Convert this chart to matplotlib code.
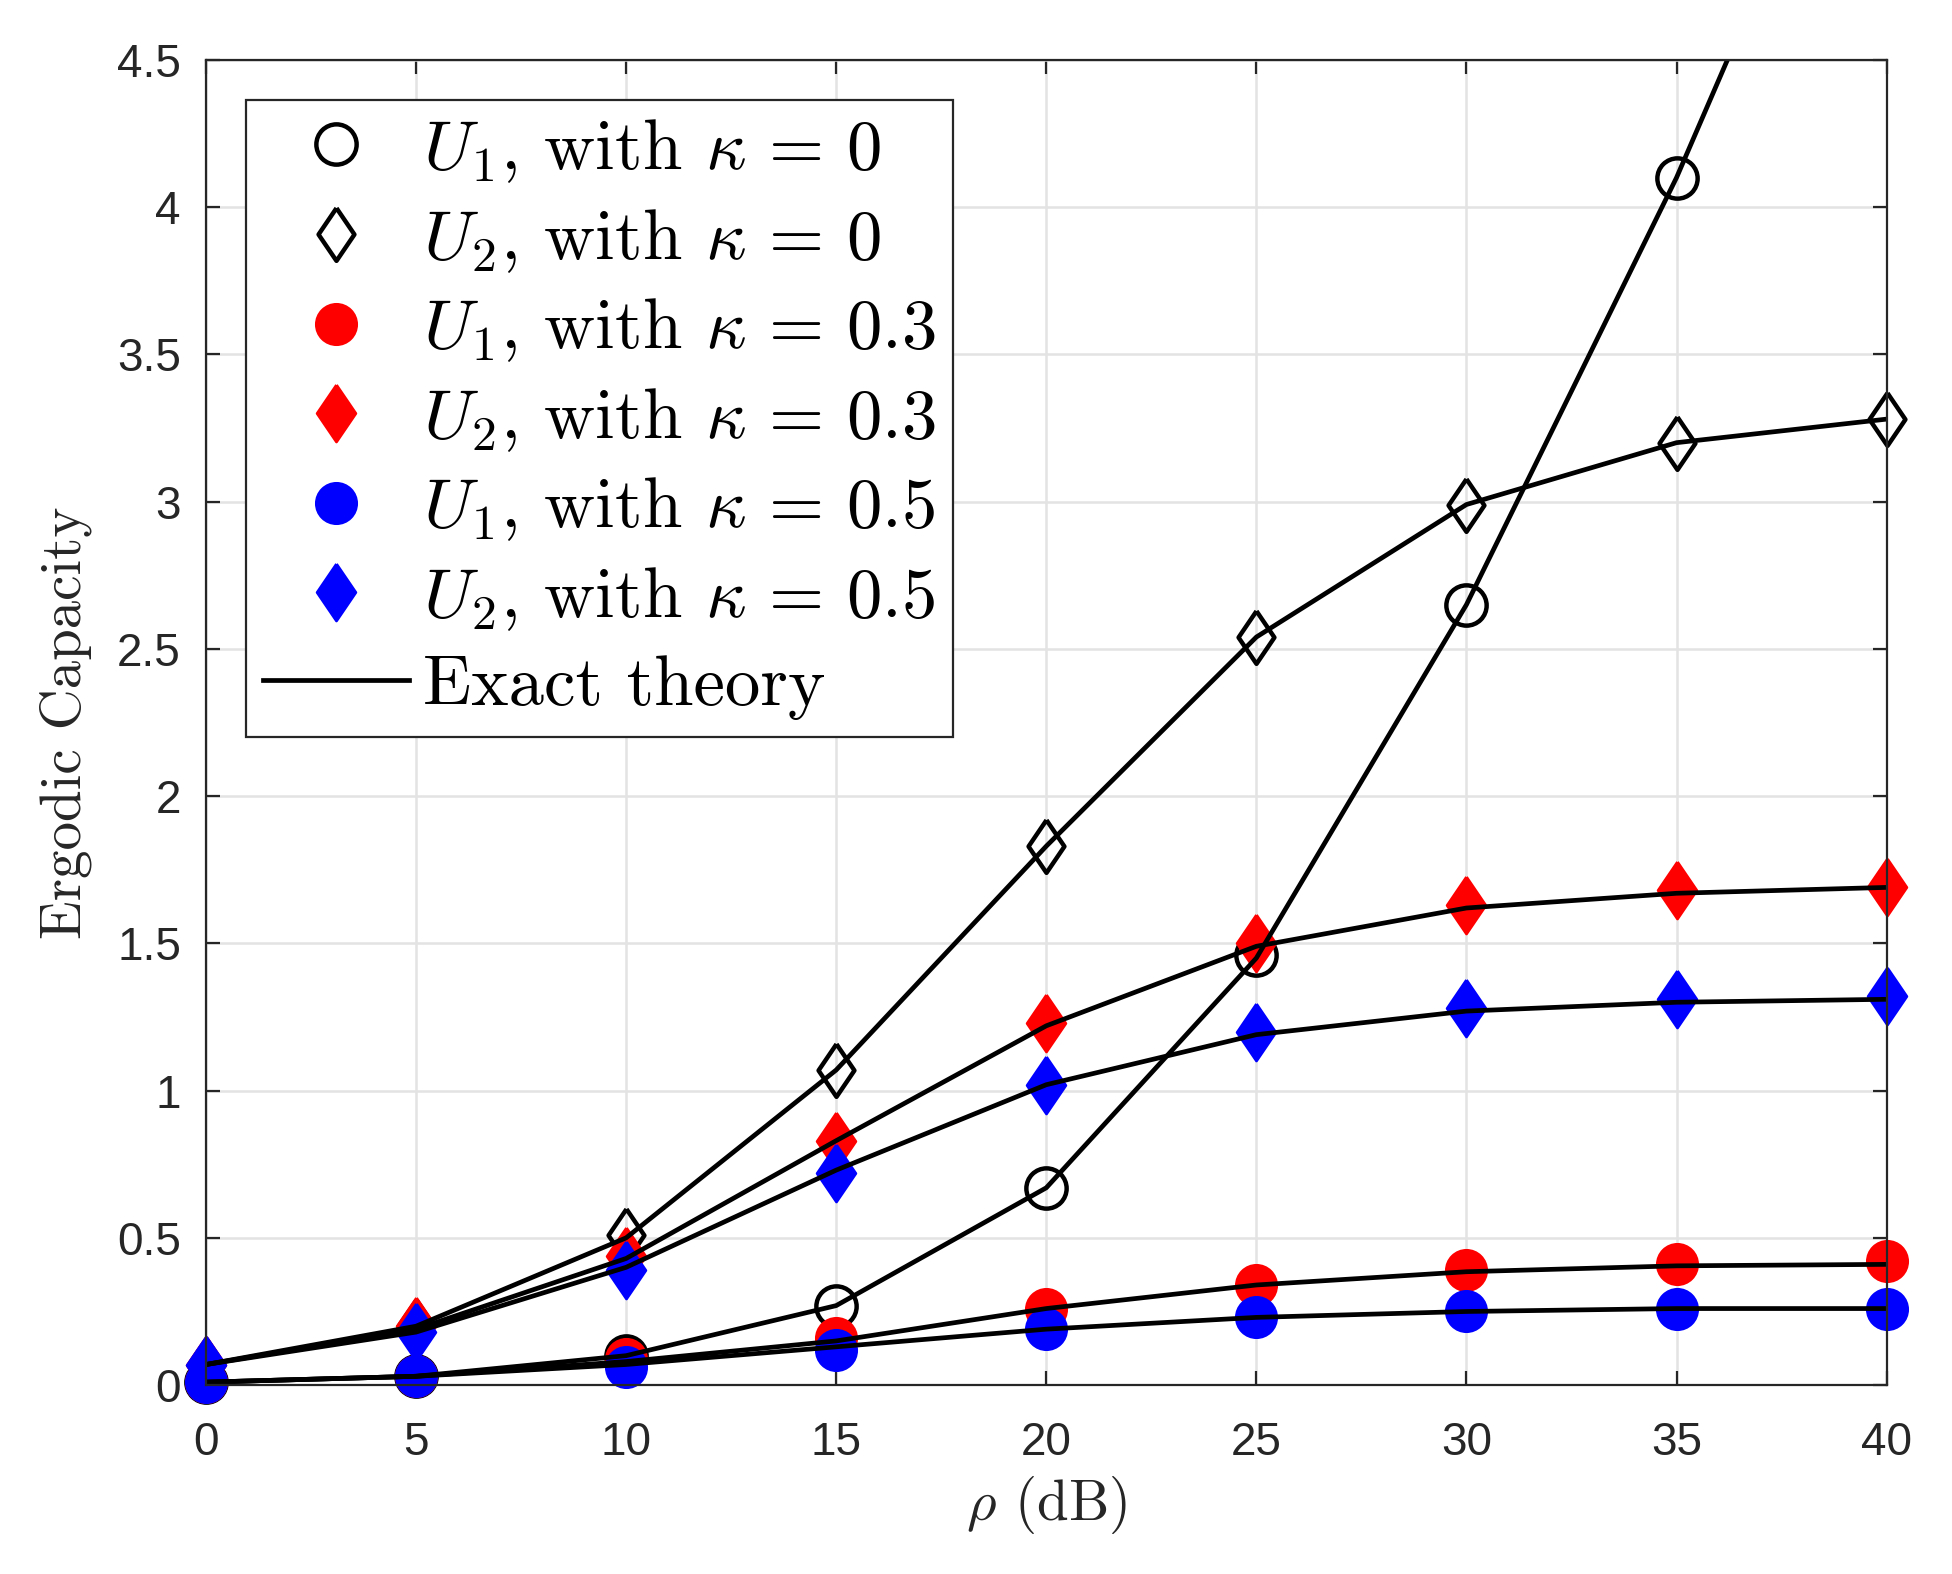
import numpy as np
import matplotlib
matplotlib.use('Agg')
import matplotlib.pyplot as plt

plt.rcParams['mathtext.fontset'] = 'cm'
plt.rcParams['font.family'] = ['Liberation Sans', 'DejaVu Sans']

rho = [0, 5, 10, 15, 20, 25, 30, 35, 40]

# simulation points
u1_k0_sim = [0.01, 0.03, 0.10, 0.27, 0.67, 1.46, 2.65, 4.10, 5.75]
u2_k0_sim = [0.07, 0.20, 0.51, 1.07, 1.83, 2.54, 2.99, 3.20, 3.28]
u1_k3_sim = [0.01, 0.03, 0.09, 0.16, 0.26, 0.34, 0.39, 0.41, 0.42]
u2_k3_sim = [0.07, 0.20, 0.44, 0.83, 1.23, 1.50, 1.63, 1.68, 1.69]
u1_k5_sim = [0.01, 0.03, 0.06, 0.12, 0.19, 0.23, 0.25, 0.26, 0.26]
u2_k5_sim = [0.07, 0.18, 0.39, 0.72, 1.02, 1.20, 1.28, 1.31, 1.32]

# exact theory
u1_k0_th = [0.01, 0.03, 0.10, 0.27, 0.67, 1.45, 2.65, 4.10, 5.75]
u2_k0_th = [0.07, 0.20, 0.50, 1.07, 1.83, 2.54, 2.99, 3.20, 3.28]
u1_k3_th = [0.01, 0.03, 0.08, 0.15, 0.26, 0.34, 0.385, 0.405, 0.41]
u2_k3_th = [0.07, 0.19, 0.43, 0.83, 1.22, 1.49, 1.62, 1.67, 1.69]
u1_k5_th = [0.01, 0.03, 0.07, 0.13, 0.19, 0.23, 0.25, 0.26, 0.26]
u2_k5_th = [0.07, 0.18, 0.40, 0.73, 1.02, 1.19, 1.27, 1.30, 1.31]

labels = [r'$U_1$, with $\kappa\,=\,0$',
          r'$U_2$, with $\kappa\,=\,0$',
          r'$U_1$, with $\kappa\,=\,0.3$',
          r'$U_2$, with $\kappa\,=\,0.3$',
          r'$U_1$, with $\kappa\,=\,0.5$',
          r'$U_2$, with $\kappa\,=\,0.5$']

ymax = 4.5
diamond = [(0, 1), (0.68, 0), (0, -1), (-0.68, 0), (0, 1)]


def visible(xs, ys):
    xs = np.array(xs, dtype=float)
    ys = np.array(ys, dtype=float)
    keep = ys <= ymax
    return xs[keep], ys[keep]


fig = plt.figure(figsize=(9.76, 7.87), dpi=200)
ax = fig.add_axes([0.1055, 0.12, 0.861, 0.842])

ax.plot(*visible(rho, u1_k0_sim), 'o', mfc='none', mec='black', mew=1.6, ms=14.5,
        clip_on=False, zorder=4, label=labels[0])
ax.plot(*visible(rho, u2_k0_sim), marker=diamond, ls='none', mfc='none', mec='black',
        mew=1.6, ms=19, clip_on=False, zorder=4, label=labels[1])
ax.plot(rho, u1_k3_sim, 'o', color='red', ms=14.5, clip_on=False, zorder=5, label=labels[2])
ax.plot(rho, u2_k3_sim, marker=diamond, ls='none', color='red', ms=20.5,
        clip_on=False, zorder=5, label=labels[3])
ax.plot(rho, u1_k5_sim, 'o', color='blue', ms=14.5, clip_on=False, zorder=6, label=labels[4])
ax.plot(rho, u2_k5_sim, marker=diamond, ls='none', color='blue', ms=20.5,
        clip_on=False, zorder=6, label=labels[5])

for th in [u1_k0_th, u2_k0_th, u1_k3_th, u2_k3_th, u1_k5_th, u2_k5_th]:
    ax.plot(rho, th, '-', color='black', lw=1.7, zorder=7)
ax.plot([], [], '-', color='black', lw=1.7, label='Exact theory')

ax.set_xlim(0, 40)
ax.set_ylim(0, ymax)
ax.set_xticks(np.arange(0, 41, 5))
ax.set_yticks(np.arange(0, 4.51, 0.5))
ax.set_yticklabels(['0', '0.5', '1', '1.5', '2', '2.5', '3', '3.5', '4', '4.5'])
ax.grid(True, color='#e3e3e3', lw=0.9)
ax.set_axisbelow(True)
ax.tick_params(direction='in', top=True, right=True, length=5, width=0.8,
               labelsize=16.5, colors='#262626')
ax.tick_params(axis='x', pad=13)
ax.tick_params(axis='y', pad=9)
for s in ax.spines.values():
    s.set_color('#262626')
    s.set_linewidth(0.8)
    s.set_zorder(8)

ax.set_xlabel(r'$\rho$ (dB)', fontsize=20.5, color='#262626', labelpad=3,
              family='cmr10')
ax.set_ylabel('Ergodic Capacity', fontsize=20.5, color='#262626', labelpad=9,
              family='cmr10')

leg = ax.legend(loc='upper left', bbox_to_anchor=(0.0237, 0.97),
                prop={'family': 'cmr10', 'size': 25.5},
                numpoints=1, handlelength=2.05, handletextpad=0.2,
                labelspacing=0.31, borderpad=0.25, borderaxespad=0,
                fancybox=False, framealpha=1, edgecolor='#262626')
leg.get_frame().set_linewidth(0.8)
leg.set_zorder(9)

fig.savefig('out.png', dpi=200)
